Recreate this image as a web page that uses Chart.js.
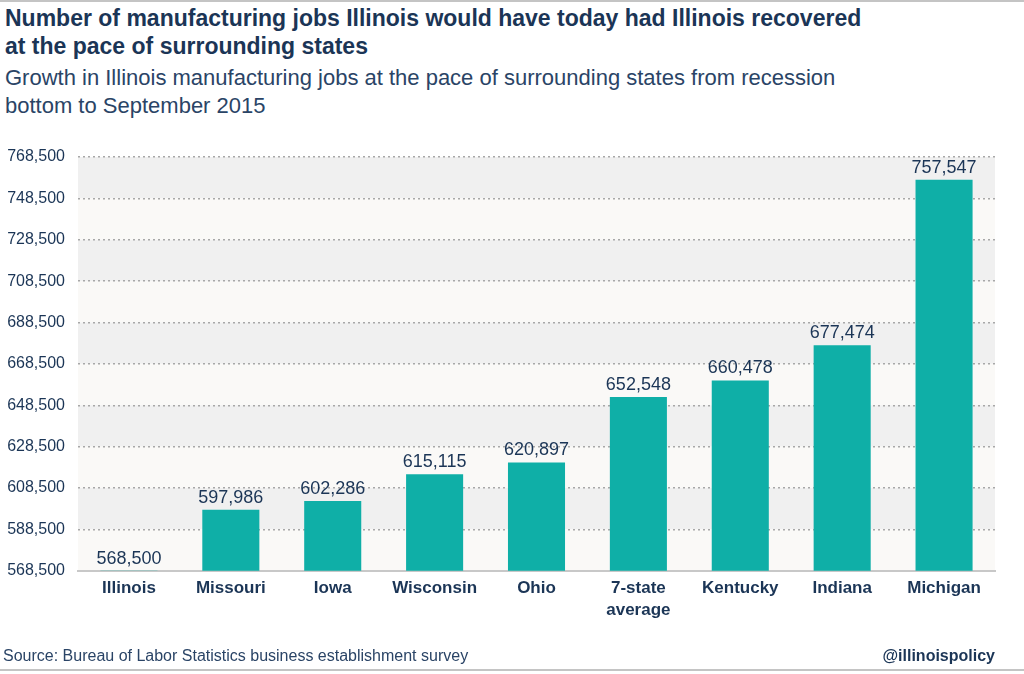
<!DOCTYPE html>
<html>
<head>
<meta charset="utf-8">
<script src="https://cdn.jsdelivr.net/npm/chart.js@4.4.0/dist/chart.umd.min.js"></script>
<style>
  html, body { margin: 0; padding: 0; background: #fff; }
  body { width: 1024px; height: 674px; position: relative; overflow: hidden;
         font-family: "Liberation Sans", Arial, sans-serif; color: #1d3a5c; }
  .rule { position: absolute; left: 0; width: 1024px; height: 2px; background: #c4c4c4; }
  #title { position: absolute; left: 5px; top: 4px; font-size: 23px; font-weight: bold;
           line-height: 28px; color: #1b3556; }
  #subtitle { position: absolute; left: 5px; top: 64px; font-size: 22px; line-height: 28px;
              color: #2a4466; }
  #source { position: absolute; left: 3px; top: 647px; font-size: 16px; color: #2a4466; }
  #handle { position: absolute; right: 29px; top: 647px; font-size: 16px; font-weight: bold; color: #1b3556; }
  #chart { position: absolute; left: 0; top: 0; }
</style>
</head>
<body>
<div class="rule" style="top:0"></div>
<div id="title">Number of manufacturing jobs Illinois would have today had Illinois recovered<br>at the pace of surrounding states</div>
<div id="subtitle">Growth in Illinois manufacturing jobs at the pace of surrounding states from recession<br>bottom to September 2015</div>
<canvas id="chart" width="1024" height="674"></canvas>
<div id="source">Source: Bureau of Labor Statistics business establishment survey</div>
<div id="handle">@illinoispolicy</div>
<div class="rule" style="top:669px"></div>

<script>
// ── data ────────────────────────────────────────────────────────────────
const states = ['Illinois', 'Missouri', 'Iowa', 'Wisconsin', 'Ohio',
                ['7-state', 'average'], 'Kentucky', 'Indiana', 'Michigan'];
const jobs   = [568500, 597986, 602286, 615115, 620897, 652548, 660478, 677474, 757547];
const yMin = 568500, yMax = 768500, yStep = 20000;

const NAVY = '#1b3556';
const TEAL = '#0fafa7';
const fmt = v => Number(v).toLocaleString('en-US');

// alternating bands behind the bars
const bandsPlugin = {
  id: 'bands',
  beforeDraw(chart) {
    const { ctx, chartArea: a, scales: { y } } = chart;
    ctx.save();
    let i = 0;
    for (let v = yMax; v > yMin; v -= yStep, i++) {
      const top = y.getPixelForValue(v), bot = y.getPixelForValue(v - yStep);
      ctx.fillStyle = i % 2 === 0 ? '#f0f0f0' : '#faf9f7';
      ctx.fillRect(a.left, top, a.right - a.left, bot - top);
    }
    ctx.restore();
  }
};

// value labels above bars
const labelsPlugin = {
  id: 'valueLabels',
  afterDatasetsDraw(chart) {
    const { ctx } = chart;
    const meta = chart.getDatasetMeta(0);
    ctx.save();
    ctx.font = '18px "Liberation Sans", Arial, sans-serif';
    ctx.fillStyle = NAVY;
    ctx.textAlign = 'center';
    ctx.textBaseline = 'alphabetic';
    meta.data.forEach((bar, i) => {
      ctx.fillText(fmt(jobs[i]), bar.x, bar.y - 7);
    });
    ctx.restore();
  }
};

new Chart(document.getElementById('chart'), {
  type: 'bar',
  data: {
    labels: states,
    datasets: [{ data: jobs, backgroundColor: TEAL, borderWidth: 0,
                 categoryPercentage: 1, barPercentage: 0.56 }]
  },
  options: {
    responsive: false,
    animation: false,
    layout: { padding: { top: 157, right: 29, bottom: 47, left: 0 } },
    plugins: { legend: { display: false }, tooltip: { enabled: false }, title: { display: false } },
    scales: {
      x: {
        grid: { display: false, drawTicks: false },
        border: { display: true, color: '#c8c8c8', width: 2 },
        ticks: { color: NAVY, padding: 6,
                 font: { family: '"Liberation Sans", Arial, sans-serif', size: 17, weight: 'bold', lineHeight: 1.3 } }
      },
      y: {
        min: yMin, max: yMax,
        afterFit(scale) { scale.width = 78; },
        border: { display: false, dash: [2, 3] },
        grid: {
          drawTicks: false,
          color: ctx => ctx.tick && ctx.tick.value === yMin ? 'rgba(0,0,0,0)' : '#a8a8a8',
          lineWidth: 1.5
        },
        ticks: { stepSize: yStep, padding: 13, color: NAVY, callback: v => fmt(v),
                 font: { family: '"Liberation Sans", Arial, sans-serif', size: 16 } }
      }
    }
  },
  plugins: [bandsPlugin, labelsPlugin]
});
</script>
</body>
</html>
